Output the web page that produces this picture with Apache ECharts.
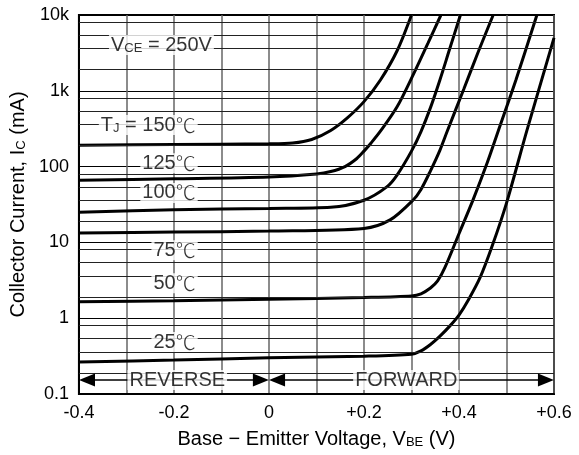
<!DOCTYPE html>
<html>
<head>
<meta charset="utf-8">
<script src="https://cdn.jsdelivr.net/npm/echarts@6/dist/echarts.min.js"></script>
<style>
html, body { margin: 0; padding: 0; background: #fff; }
#chart { width: 579px; height: 455px; }
</style>
</head>
<body>
<div id="chart"></div>
<script>
// tick labels
var xTickLabels = ['-0.4', '', '-0.2', '', '0', '', '+0.2', '', '+0.4', '', '+0.6'];
var yTickLabels = ['0.1', '1', '10', '100', '1k', '10k'];

// the extra (non decade) horizontal grid lines, mA
var minorGrid = [8000, 5400, 3600, 1900, 800, 540, 360, 190, 80, 54, 36, 19,
                 8, 5.4, 3.6, 1.9, 0.8, 0.54, 0.36, 0.19];

// VBE (V), IC (mA) for each junction temperature
var ic150 = [[-0.4, 192], [-0.2, 195], [0, 200], [0.05, 205], [0.09, 228], [0.13, 300],
             [0.165, 440], [0.2, 720], [0.235, 1400], [0.27, 3400], [0.3, 10000]];
var ic125 = [[-0.4, 66], [-0.2, 69], [0, 73], [0.1, 80], [0.13, 86], [0.16, 100], [0.185, 128],
             [0.2, 160], [0.215, 205], [0.235, 295], [0.27, 620], [0.305, 1700], [0.335, 4300], [0.362, 10000]];
var ic100 = [[-0.4, 25], [-0.2, 27], [0, 28], [0.13, 29], [0.2, 36], [0.248, 54], [0.27, 78],
             [0.3, 160], [0.32, 290], [0.34, 600], [0.36, 1400], [0.38, 3500], [0.403, 10000]];
var ic75 = [[-0.4, 13.3], [-0.2, 13.7], [0, 14.1], [0.2, 15.3], [0.255, 19.8], [0.303, 36], [0.32, 50],
            [0.34, 88], [0.36, 165], [0.375, 290], [0.41, 1050], [0.44, 3200], [0.472, 10000]];
var ic50 = [[-0.4, 1.65], [-0.2, 1.7], [0, 1.78], [0.2, 1.88], [0.3, 1.97], [0.32, 2.1], [0.34, 2.5],
            [0.355, 3.1], [0.37, 4.6], [0.4, 13], [0.43, 37], [0.46, 115], [0.483, 300], [0.52, 1400], [0.564, 10000]];
var ic25 = [[-0.4, 0.265], [-0.2, 0.28], [0, 0.3], [0.2, 0.315], [0.3, 0.335], [0.32, 0.37], [0.34, 0.45],
            [0.36, 0.58], [0.38, 0.78], [0.4, 1.1], [0.42, 1.75], [0.445, 3.5], [0.47, 9], [0.5, 33],
            [0.543, 300], [0.6, 5000]];

var curves = [ic150, ic125, ic100, ic75, ic50, ic25];

var font = 'Liberation Sans, Arial, sans-serif';
var cjk = 'Noto Sans CJK SC, sans-serif';
var rich = {
    t: { fontFamily: font, fontSize: 20, color: '#000' },
    s: { fontFamily: font, fontSize: 13, color: '#000', verticalAlign: 'bottom', padding: [5, 0, 0, 0] }
};
var richNote = {
    t: { fontFamily: font, fontSize: 20, color: '#000' },
    s: { fontFamily: font, fontSize: 13, color: '#000', verticalAlign: 'bottom', padding: [5, 0, 0, 0] },
    c: { fontFamily: cjk, fontSize: 20, fontWeight: 300, color: '#000' }
};

// text notes placed in data space
var notes = [
    { at: [-0.116, 4020], text: '{t|V}{s|CE}{t| = 250V}', align: 'right' },
    { at: [-0.15, 354], text: '{t|T}{s|J}{t| = 150}{c|℃}', align: 'right' },
    { at: [-0.15, 111], text: '{t|125}{c|℃}', align: 'right' },
    { at: [-0.15, 45], text: '{t|100}{c|℃}', align: 'right' },
    { at: [-0.15, 7.9], text: '{t|75}{c|℃}', align: 'right' },
    { at: [-0.15, 2.9], text: '{t|50}{c|℃}', align: 'right' },
    { at: [-0.15, 0.485], text: '{t|25}{c|℃}', align: 'right' },
    { at: [-0.193, 0.153], text: '{t|REVERSE}', align: 'center' },
    { at: [0.289, 0.153], text: '{t|FORWARD}', align: 'center' }
];

var arrowY = 0.153;
var inset = 0.017;

var chart = echarts.init(document.getElementById('chart'));

var series = curves.map(function (c) {
    return {
        type: 'line',
        data: c,
        smooth: 0.3,
        showSymbol: false,
        silent: true,
        z: 4,
        lineStyle: { color: '#000', width: 3 }
    };
});

series.push({
    type: 'line',
    data: [],
    silent: true,
    z: 2,
    markLine: {
        silent: true,
        symbol: 'none',
        label: { show: false },
        lineStyle: { color: '#222', width: 1, type: 'solid' },
        data: minorGrid.map(function (v) { return { yAxis: v }; })
    }
});

series.push({
    type: 'line',
    data: [],
    silent: true,
    z: 5,
    markLine: {
        silent: true,
        symbol: ['triangle', 'triangle'],
        symbolSize: [13, 16],
        label: { show: false },
        lineStyle: { color: '#000', width: 1.5, type: 'solid' },
        itemStyle: { color: '#000' },
        data: [
            [{ coord: [-0.4 + inset, arrowY] }, { coord: [0 - inset, arrowY] }],
            [{ coord: [0 + inset, arrowY] }, { coord: [0.6 - inset, arrowY] }]
        ]
    }
});

series.push({
    type: 'scatter',
    silent: true,
    z: 8,
    symbolSize: 1,
    itemStyle: { color: 'rgba(0,0,0,0)' },
    data: notes.map(function (n) {
        return {
            value: n.at,
            label: {
                show: true,
                position: 'inside',
                align: n.align,
                formatter: n.text,
                backgroundColor: '#fff',
                padding: [0, 2],
                rich: richNote
            }
        };
    })
});

chart.setOption({
    animation: false,
    backgroundColor: '#fff',
    grid: {
        left: 78, right: 25, top: 15, bottom: 61,
        show: true, borderColor: '#000', borderWidth: 2, backgroundColor: 'transparent'
    },
    xAxis: {
        type: 'value',
        min: -0.4, max: 0.6, interval: 0.1,
        name: '{t|Base − Emitter Voltage, V}{s|BE}{t| (V)}',
        nameLocation: 'middle',
        nameGap: 35,
        nameTextStyle: { rich: rich },
        axisLine: { show: true, onZero: false, lineStyle: { color: '#000', width: 2 } },
        axisTick: { show: false },
        axisLabel: {
            margin: 10, color: '#000', fontFamily: font, fontSize: 18,
            formatter: function (v) { return xTickLabels[Math.round((v + 0.4) * 10)] || ''; }
        },
        splitLine: { show: true, lineStyle: { color: '#666', width: 1.5 } }
    },
    yAxis: {
        type: 'log',
        logBase: 10,
        min: 0.1, max: 10000,
        name: '{t|Collector Current, I}{s|C}{t| (mA)}',
        nameLocation: 'middle',
        nameGap: 48,
        nameRotate: 90,
        nameTextStyle: { rich: rich },
        axisLine: { show: true, onZero: false, lineStyle: { color: '#000', width: 2 } },
        axisTick: { show: false },
        axisLabel: {
            margin: 10, color: '#000', fontFamily: font, fontSize: 18,
            formatter: function (v) { return yTickLabels[Math.round(Math.log10(v)) + 1] || ''; }
        },
        splitLine: { show: true, lineStyle: { color: '#000', width: 1 } }
    },
    series: series
});
</script>
</body>
</html>
